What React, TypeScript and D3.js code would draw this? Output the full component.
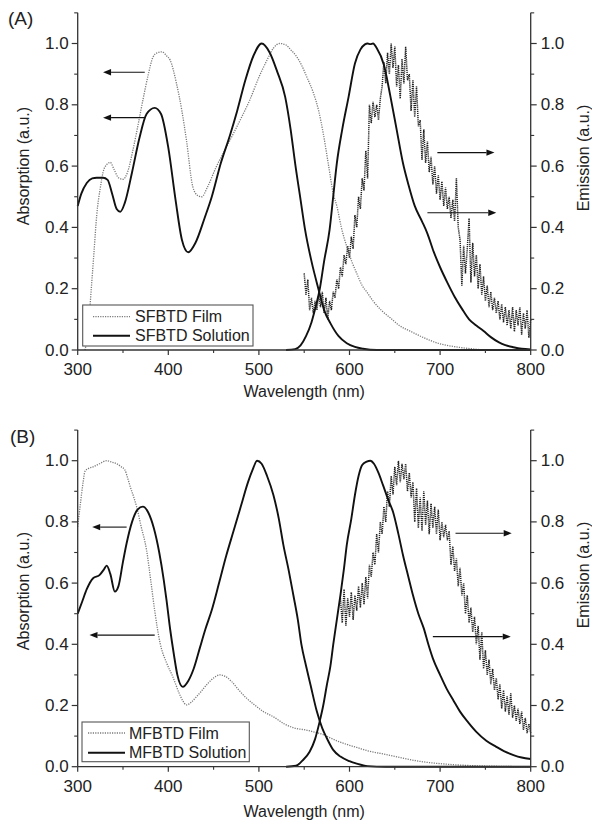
import React from "react";
import * as d3 from "d3";

type P = [number, number];

const X_DOMAIN: [number, number] = [300, 800];
const Y_DOMAIN: [number, number] = [0, 1.1];
const X_MAJOR = [300, 400, 500, 600, 700, 800];
const X_MINOR = [350, 450, 550, 650, 750];
const Y_MAJOR = [0, 0.2, 0.4, 0.6, 0.8, 1.0];
const Y_MINOR = [0.1, 0.3, 0.5, 0.7, 0.9, 1.1];

// ---------- Panel A: SFBTD ----------
const sfSolAbs: P[] = [
  [300, 0.47], [304, 0.51], [310, 0.545], [316, 0.56], [321, 0.562], [328, 0.562], [333, 0.555],
  [338, 0.51], [343, 0.46], [347, 0.451], [352, 0.48], [360, 0.58], [368, 0.69], [376, 0.77],
  [385, 0.79], [392, 0.77], [400, 0.66], [408, 0.49], [415, 0.36], [422, 0.319], [430, 0.35],
  [440, 0.43], [448, 0.5], [458, 0.61], [468, 0.7], [476, 0.78], [485, 0.88], [494, 0.96],
  [503, 1.0], [512, 0.97], [520, 0.91], [529, 0.826], [535, 0.72], [540, 0.609], [546, 0.49],
  [551, 0.392], [558, 0.29], [566, 0.196], [572, 0.13], [579, 0.087], [588, 0.045], [597, 0.022],
  [606, 0.01], [615, 0.004], [630, 0.0], [800, 0.0],
];
const sfSolEm: P[] = [
  [530, 0.0], [540, 0.003], [546, 0.015], [552, 0.045], [558, 0.09], [563, 0.145], [567, 0.196],
  [572, 0.29], [578, 0.392], [582, 0.5], [586, 0.609], [592, 0.72], [599, 0.826], [606, 0.935],
  [612, 0.98], [617, 0.997], [620, 1.0], [623, 0.998], [626, 1.0], [630, 0.985], [638, 0.93],
  [645, 0.83], [652, 0.72], [659, 0.61], [665, 0.54], [672, 0.47], [680, 0.42], [686, 0.38],
  [693, 0.32], [700, 0.27], [708, 0.22], [716, 0.174], [724, 0.135], [732, 0.1], [740, 0.08],
  [748, 0.062], [756, 0.042], [765, 0.025], [772, 0.016], [781, 0.009], [790, 0.004], [800, 0.002],
];
const sfFilmAbs: P[] = [
  [308, 0.0], [311, 0.05], [315, 0.2], [318, 0.32], [321, 0.44], [325, 0.53], [328, 0.58],
  [332, 0.605], [336, 0.612], [340, 0.59], [345, 0.562], [350, 0.557], [355, 0.58], [361, 0.653],
  [367, 0.74], [372, 0.816], [378, 0.9], [383, 0.955], [388, 0.97], [393, 0.973], [398, 0.96],
  [402, 0.946], [409, 0.87], [415, 0.78], [420, 0.685], [427, 0.533], [432, 0.505], [437, 0.5],
  [443, 0.53], [453, 0.598], [462, 0.65], [472, 0.707], [481, 0.76], [490, 0.816], [500, 0.89],
  [509, 0.946], [516, 0.985], [523, 1.0], [530, 0.995], [535, 0.98], [541, 0.96], [547, 0.93],
  [553, 0.89], [560, 0.84], [566, 0.78], [571, 0.707], [577, 0.6], [582, 0.511], [586, 0.47],
  [591, 0.4], [597, 0.337], [603, 0.285], [608, 0.25], [614, 0.21], [619, 0.19], [626, 0.16],
  [635, 0.13], [645, 0.105], [655, 0.08], [668, 0.06], [682, 0.04], [700, 0.02], [718, 0.01],
  [735, 0.004], [750, 0.0], [800, 0.0],
];
const sfFilmEmStart = 550;
const sfFilmEmStep = 2;
const sfFilmEm = [
  0.25, 0.18, 0.23, 0.13, 0.17, 0.12, 0.16, 0.13, 0.18, 0.14, 0.19, 0.12, 0.17, 0.10, 0.16,
  0.13, 0.19, 0.17, 0.23, 0.20, 0.27, 0.24, 0.31, 0.28, 0.34, 0.30, 0.37, 0.33, 0.44, 0.40,
  0.50, 0.46, 0.56, 0.52, 0.65, 0.56, 0.80, 0.74, 0.81, 0.76, 0.80, 0.75, 0.82, 0.86, 0.94,
  0.87, 0.97, 0.90, 1.00, 0.92, 0.99, 0.86, 0.93, 0.82, 0.95, 0.87, 0.99, 0.88, 0.90, 0.78,
  0.88, 0.76, 0.86, 0.73, 0.75, 0.62, 0.72, 0.61, 0.68, 0.58, 0.63, 0.54, 0.60, 0.51, 0.57,
  0.49, 0.55, 0.47, 0.53, 0.46, 0.50, 0.43, 0.49, 0.42, 0.56, 0.40, 0.36, 0.21, 0.34, 0.25,
  0.33, 0.43, 0.22, 0.35, 0.24, 0.31, 0.20, 0.28, 0.18, 0.24, 0.16, 0.21, 0.14, 0.19, 0.13,
  0.17, 0.12, 0.16, 0.10, 0.15, 0.09, 0.14, 0.08, 0.13, 0.07, 0.14, 0.06, 0.13, 0.08, 0.14,
  0.05, 0.12, 0.07, 0.13, 0.04, 0.10,
];
const sfArrows = [
  { from: 374, to: 328, v: 0.906 },
  { from: 374, to: 328, v: 0.758 },
  { from: 697, to: 760, v: 0.644 },
  { from: 686, to: 762, v: 0.448 },
];
const sfLegend = ["SFBTD Film", "SFBTD Solution"];

// ---------- Panel B: MFBTD ----------
const mfSolAbs: P[] = [
  [300, 0.5], [305, 0.54], [310, 0.58], [317, 0.616], [324, 0.626], [329, 0.645], [332, 0.657],
  [336, 0.63], [341, 0.572], [345, 0.59], [350, 0.67], [354, 0.73], [360, 0.8], [366, 0.84],
  [372, 0.85], [378, 0.83], [384, 0.78], [390, 0.7], [395, 0.61], [398, 0.545], [402, 0.45],
  [406, 0.37], [410, 0.3], [416, 0.261], [422, 0.28], [428, 0.32], [435, 0.39], [441, 0.45],
  [448, 0.512], [456, 0.6], [464, 0.69], [472, 0.77], [480, 0.85], [488, 0.93], [493, 0.97],
  [498, 1.0], [503, 0.99], [509, 0.95], [516, 0.888], [522, 0.81], [527, 0.725], [533, 0.64],
  [538, 0.561], [543, 0.48], [547, 0.398], [552, 0.33], [557, 0.267], [564, 0.18], [570, 0.125],
  [575, 0.093], [582, 0.055], [590, 0.033], [600, 0.018], [608, 0.01], [620, 0.002], [640, 0.0],
  [800, 0.0],
];
const mfSolEm: P[] = [
  [530, 0.0], [541, 0.003], [548, 0.02], [556, 0.049], [562, 0.09], [567, 0.147], [571, 0.2],
  [575, 0.267], [579, 0.33], [582, 0.398], [586, 0.48], [590, 0.561], [594, 0.65], [597, 0.725],
  [602, 0.81], [606, 0.888], [610, 0.95], [614, 0.986], [619, 0.997], [623, 1.0], [627, 0.99],
  [632, 0.96], [637, 0.92], [643, 0.87], [648, 0.833], [654, 0.76], [659, 0.692], [665, 0.62],
  [670, 0.561], [676, 0.5], [682, 0.452], [687, 0.4], [692, 0.354], [700, 0.3], [707, 0.256],
  [715, 0.215], [722, 0.18], [731, 0.145], [740, 0.114], [751, 0.085], [762, 0.065], [771, 0.05],
  [781, 0.038], [790, 0.03], [800, 0.025],
];
const mfFilmAbs: P[] = [
  [300, 0.784], [303, 0.86], [306, 0.93], [308, 0.965], [312, 0.975], [317, 0.98], [324, 0.99],
  [332, 1.0], [338, 0.995], [343, 0.99], [348, 0.98], [352, 0.97], [355, 0.945], [358, 0.915],
  [362, 0.88], [365, 0.85], [370, 0.785], [376, 0.708], [381, 0.6], [385, 0.51], [391, 0.403],
  [398, 0.34], [405, 0.294], [412, 0.24], [416, 0.215], [420, 0.202], [425, 0.21], [430, 0.225],
  [436, 0.245], [443, 0.27], [450, 0.29], [457, 0.3], [463, 0.295], [470, 0.278], [478, 0.25],
  [486, 0.225], [494, 0.205], [505, 0.18], [516, 0.163], [528, 0.14], [541, 0.125], [552, 0.12],
  [560, 0.114], [571, 0.105], [578, 0.095], [590, 0.08], [600, 0.07], [608, 0.063], [620, 0.052],
  [633, 0.044], [645, 0.037], [660, 0.027], [681, 0.016], [700, 0.01], [718, 0.006], [740, 0.003],
  [770, 0.001], [800, 0.0],
];
const mfFilmEmStart = 590;
const mfFilmEmStep = 2;
const mfFilmEm = [
  0.55, 0.47, 0.58, 0.46, 0.55, 0.49, 0.57, 0.48, 0.56, 0.51, 0.59, 0.52, 0.60, 0.53, 0.62,
  0.55, 0.66, 0.62, 0.70, 0.66, 0.76, 0.70, 0.80, 0.76, 0.85, 0.80, 0.90, 0.85, 0.95, 0.89,
  0.98, 0.92, 1.00, 0.93, 0.99, 0.94, 0.99, 0.90, 0.96, 0.88, 0.93, 0.80, 0.91, 0.78, 0.88,
  0.77, 0.90, 0.79, 0.87, 0.76, 0.86, 0.78, 0.85, 0.76, 0.84, 0.74, 0.80, 0.75, 0.79, 0.74,
  0.77, 0.66, 0.72, 0.64, 0.68, 0.59, 0.65, 0.56, 0.60, 0.50, 0.56, 0.47, 0.52, 0.44, 0.49,
  0.40, 0.46, 0.35, 0.44, 0.32, 0.38, 0.30, 0.35, 0.27, 0.32, 0.25, 0.29, 0.22, 0.27, 0.19,
  0.25, 0.18, 0.23, 0.17, 0.24, 0.16, 0.20, 0.15, 0.19, 0.14, 0.18, 0.12, 0.16, 0.11, 0.14,
  0.11,
];
const mfArrows = [
  { from: 354, to: 316, v: 0.783 },
  { from: 385, to: 313, v: 0.43 },
  { from: 717, to: 779, v: 0.763 },
  { from: 692, to: 778, v: 0.425 },
];
const mfLegend = ["MFBTD Film", "MFBTD Solution"];

const FONT = "'Liberation Sans', Arial, sans-serif";

type Layout = {
  bottom: number;
  top: number;
  left: number;
  right: number;
  letter: string;
  letterX: number;
  letterY: number;
  tickLabelY: number;
  titleY: number;
  leftTitleY: number;
  rightTitleY: number;
  legend: { x: number; y: number; w: number; h: number; lx1: number; lx2: number; rows: number[]; tx: number };
};

type PanelProps = {
  layout: Layout;
  solAbs: P[];
  solEm: P[];
  filmAbs: P[];
  filmEmStart: number;
  filmEmStep: number;
  filmEm: number[];
  arrows: { from: number; to: number; v: number }[];
  legendNames: string[];
};

function Panel({ layout: L, solAbs, solEm, filmAbs, filmEmStart, filmEmStep, filmEm, arrows, legendNames }: PanelProps) {
  const x = d3.scaleLinear().domain(X_DOMAIN).range([L.left, L.right]);
  const y = d3.scaleLinear().domain(Y_DOMAIN).range([L.bottom, L.top]);
  const smooth = d3
    .line<P>()
    .x((d) => x(d[0]))
    .y((d) => y(d[1]))
    .curve(d3.curveMonotoneX);
  const straight = d3
    .line<P>()
    .x((d) => x(d[0]))
    .y((d) => y(d[1]));
  const filmEmPts: P[] = filmEm.map((v, i) => [filmEmStart + i * filmEmStep, v]);
  const axisColor = "#333";
  const lg = L.legend;
  return (
    <g>
      {/* curves */}
      <path d={smooth(filmAbs) || ""} fill="none" stroke="#7a7a7a" strokeWidth={1.3} strokeDasharray="1.2,1.2" />
      <path d={straight(filmEmPts) || ""} fill="none" stroke="#222" strokeWidth={1.5} strokeDasharray="1.2,0.9" />
      <path d={smooth(solAbs) || ""} fill="none" stroke="#111" strokeWidth={1.9} />
      <path d={smooth(solEm) || ""} fill="none" stroke="#111" strokeWidth={1.9} />

      {/* arrows */}
      {arrows.map((a, i) => {
        const x1 = x(a.from);
        const x2 = x(a.to);
        const yy = y(a.v);
        const dir = x2 > x1 ? 1 : -1;
        const hl = 8;
        return (
          <g key={i}>
            <line x1={x1} y1={yy} x2={x2 - dir * hl} y2={yy} stroke="#111" strokeWidth={1.1} />
            <path d={`M${x2},${yy} L${x2 - dir * hl},${yy - 3.2} L${x2 - dir * hl},${yy + 3.2} Z`} fill="#111" />
          </g>
        );
      })}

      {/* axes */}
      <line x1={L.left} y1={L.top} x2={L.left} y2={L.bottom} stroke={axisColor} strokeWidth={1.3} />
      <line x1={L.right} y1={L.top} x2={L.right} y2={L.bottom} stroke={axisColor} strokeWidth={1.3} />
      <line x1={L.left} y1={L.bottom} x2={L.right} y2={L.bottom} stroke={axisColor} strokeWidth={1.3} />
      {Y_MAJOR.map((t) => (
        <g key={"ym" + t}>
          <line x1={L.left - 6} x2={L.left} y1={y(t)} y2={y(t)} stroke={axisColor} strokeWidth={1.2} />
          <line x1={L.right} x2={L.right + 6} y1={y(t)} y2={y(t)} stroke={axisColor} strokeWidth={1.2} />
          <text x={L.left - 9} y={y(t)} textAnchor="end" dominantBaseline="central" fontSize={17} fontFamily={FONT} fill="#222">
            {t.toFixed(1)}
          </text>
          <text x={L.right + 10} y={y(t)} textAnchor="start" dominantBaseline="central" fontSize={17} fontFamily={FONT} fill="#222">
            {t.toFixed(1)}
          </text>
        </g>
      ))}
      {Y_MINOR.map((t) => (
        <g key={"yn" + t}>
          <line x1={L.left - 3.5} x2={L.left} y1={y(t)} y2={y(t)} stroke={axisColor} strokeWidth={1.1} />
          <line x1={L.right} x2={L.right + 3.5} y1={y(t)} y2={y(t)} stroke={axisColor} strokeWidth={1.1} />
        </g>
      ))}
      {X_MAJOR.map((t) => (
        <g key={"xm" + t}>
          <line x1={x(t)} x2={x(t)} y1={L.bottom} y2={L.bottom + 5} stroke={axisColor} strokeWidth={1.2} />
          <text x={x(t)} y={L.tickLabelY} textAnchor="middle" dominantBaseline="central" fontSize={17} fontFamily={FONT} fill="#222">
            {t}
          </text>
        </g>
      ))}
      {X_MINOR.map((t) => (
        <line key={"xn" + t} x1={x(t)} x2={x(t)} y1={L.bottom} y2={L.bottom + 3} stroke={axisColor} strokeWidth={1.1} />
      ))}

      {/* titles */}
      <text x={(L.left + L.right) / 2} y={L.titleY} textAnchor="middle" dominantBaseline="central" fontSize={16} fontFamily={FONT} fill="#222">
        Wavelength (nm)
      </text>
      <text
        transform={`translate(23.5,${L.leftTitleY}) rotate(-90)`}
        textAnchor="middle"
        dominantBaseline="central"
        fontSize={16}
        fontFamily={FONT}
        fill="#222"
      >
        Absorption (a.u.)
      </text>
      <text
        transform={`translate(583,${L.rightTitleY}) rotate(-90)`}
        textAnchor="middle"
        dominantBaseline="central"
        fontSize={16}
        fontFamily={FONT}
        fill="#222"
      >
        Emission (a.u.)
      </text>
      <text x={L.letterX} y={L.letterY} fontSize={19} fontFamily={FONT} fill="#222">
        {L.letter}
      </text>

      {/* legend */}
      <rect x={lg.x} y={lg.y} width={lg.w} height={lg.h} fill="#fff" stroke="#555" strokeWidth={1.1} />
      <line x1={lg.lx1} x2={lg.lx2} y1={lg.rows[0]} y2={lg.rows[0]} stroke="#7a7a7a" strokeWidth={1.3} strokeDasharray="1.2,1.2" />
      <line x1={lg.lx1} x2={lg.lx2} y1={lg.rows[1]} y2={lg.rows[1]} stroke="#111" strokeWidth={1.9} />
      {legendNames.map((n, i) => (
        <text key={n} x={lg.tx} y={lg.rows[i]} dominantBaseline="central" fontSize={16} fontFamily={FONT} fill="#222">
          {n}
        </text>
      ))}
    </g>
  );
}

const layoutA: Layout = {
  bottom: 350,
  top: 12.85,
  left: 77.7,
  right: 530.7,
  letter: "(A)",
  letterX: 8,
  letterY: 25,
  tickLabelY: 369,
  titleY: 391,
  leftTitleY: 166,
  rightTitleY: 158,
  legend: { x: 82.7, y: 305, w: 170.3, h: 41, lx1: 93, lx2: 130, rows: [316.7, 335.7], tx: 135 },
};

const layoutB: Layout = {
  bottom: 766.7,
  top: 430.1,
  left: 77.7,
  right: 530.7,
  letter: "(B)",
  letterX: 10,
  letterY: 443,
  tickLabelY: 786,
  titleY: 811,
  leftTitleY: 591,
  rightTitleY: 575,
  legend: { x: 82, y: 722, w: 167.3, h: 39.7, lx1: 88, lx2: 125, rows: [733, 752.7], tx: 129 },
};

export default function App() {
  return (
    <svg
      width={592}
      height={820}
      viewBox="0 0 592 820"
      style={{ position: "absolute", left: 0, top: 0, background: "#fff" }}
    >
      <rect x={0} y={0} width={592} height={820} fill="#fff" />
      <Panel
        layout={layoutA}
        solAbs={sfSolAbs}
        solEm={sfSolEm}
        filmAbs={sfFilmAbs}
        filmEmStart={sfFilmEmStart}
        filmEmStep={sfFilmEmStep}
        filmEm={sfFilmEm}
        arrows={sfArrows}
        legendNames={sfLegend}
      />
      <Panel
        layout={layoutB}
        solAbs={mfSolAbs}
        solEm={mfSolEm}
        filmAbs={mfFilmAbs}
        filmEmStart={mfFilmEmStart}
        filmEmStep={mfFilmEmStep}
        filmEm={mfFilmEm}
        arrows={mfArrows}
        legendNames={mfLegend}
      />
    </svg>
  );
}
